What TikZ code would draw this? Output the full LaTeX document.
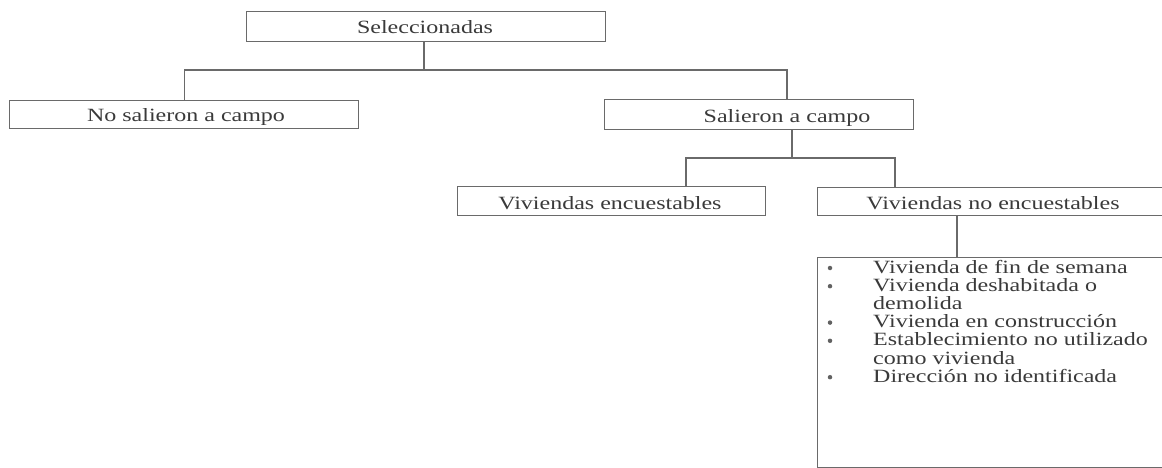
\documentclass[tikz,border=0pt]{standalone}
\usepackage{fontspec}
\setmainfont{Liberation Serif}
\newcommand{\sqz}[1]{\scalebox{1}[0.78]{#1}}
\definecolor{linegray}{HTML}{6A6A6A}
\definecolor{textgray}{HTML}{3A3A3A}
\tikzset{
  box/.style={draw=linegray, line width=1.1pt, inner sep=0pt, anchor=north west},
  lbl/.style={text=textgray, inner sep=0pt, anchor=base, font=\fontsize{24}{24}\selectfont},
  item/.style={text=textgray, inner sep=0pt, anchor=base west, font=\fontsize{24}{24}\selectfont},
  bul/.style={fill=textgray!80, circle, inner sep=0pt, minimum size=4.5pt},
  conn/.style={draw=linegray, line width=1.1pt}
}
\begin{document}
\begin{tikzpicture}[x=1pt,y=-1pt]
\useasboundingbox (0,0) rectangle (1162,468);
\fill[white] (0,0) rectangle (1162,468);
\clip (0,0) rectangle (1162,468);
% boxes
\node[box, minimum width=359pt, minimum height=30pt] (sel) at (246,11) {};
\node[box, minimum width=349pt, minimum height=28pt] (nos) at (9,100) {};
\node[box, minimum width=309pt, minimum height=30pt] (sal) at (604,99) {};
\node[box, minimum width=308pt, minimum height=29pt] (enc) at (457,186) {};
\node[box, minimum width=358pt, minimum height=28pt] (noenc) at (817,187) {};
\node[box, minimum width=358pt, minimum height=210pt] (lst) at (817,257) {};
% labels
\node[lbl] (tsel) at (425,34) {\sqz{Seleccionadas}};
\node[lbl] (tnos) at (186,122) {\sqz{No salieron a campo}};
\node[lbl] (tsal) at (787,123) {\sqz{Salieron a campo}};
\node[lbl] (tenc) at (610,209) {\sqz{Viviendas encuestables}};
\node[lbl] (tnoenc) at (993,209) {\sqz{Viviendas no encuestables}};
% list
\foreach \n/\y/\b/\t in {
  1/273/1/{Vivienda de fin de semana},
  2/291.2/1/{Vivienda deshabitada o},
  3/309.4/0/{demolida},
  4/327.6/1/{Vivienda en construcción},
  5/345.8/1/{Establecimiento no utilizado},
  6/364/0/{como vivienda},
  7/382.2/1/{Dirección no identificada}}{
  \node[item] (li\n) at (873,\y) {\sqz{\t}};
  \ifnum\b=1 \node[bul] (bu\n) at (830,\y-5) {};\fi
}
% connectors
\coordinate (j1) at (424,70);
\coordinate (j2) at (787,70);
\coordinate (j3) at (792,158);
\coordinate (j4) at (686,158);
\coordinate (j5) at (895,158);
\coordinate (j6) at (957,236);
\draw[conn] (sel.south -| j1) -- (j1);
\draw[conn] (nos.north) |- (j2) -- (sal.north -| j2);
\draw[conn] (sal.south -| j3) -- (j3);
\draw[conn] (enc.north -| j4) -- (j4) -- (j5) -- (noenc.north -| j5);
\draw[conn] (noenc.south -| j6) -- (lst.north -| j6);
\end{tikzpicture}
\end{document}
